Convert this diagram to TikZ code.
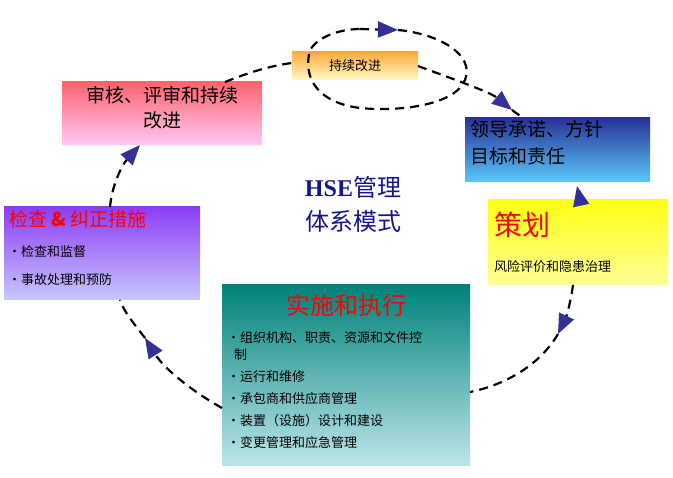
\documentclass[tikz,border=0pt]{standalone}
\usepackage{fontspec}
\setmainfont{Liberation Serif}
\newfontfamily\cjk{Noto Sans CJK SC}
\usetikzlibrary{arrows.meta}
\definecolor{ablue}{RGB}{50,50,150}
\definecolor{tnavy}{RGB}{20,20,140}
\tikzset{
  conn/.style={line width=2.2pt,dash pattern=on 9pt off 6pt,black},
  tip/.style={-{Triangle[width=16pt,length=20pt,fill=ablue,color=ablue]}},
  box/.style={inner sep=0pt,anchor=north west,font=\cjk},
}
\begin{document}
\begin{tikzpicture}[x=1pt,y=-1pt]
\useasboundingbox (0,0) rectangle (673,478);
% boxes
\shade[top color={rgb,255:red,255;green,100;blue,110},bottom color={rgb,255:red,255;green,200;blue,245}] (62,82) rectangle (262,145);
\node[box,text width=200pt,align=center,font=\cjk\fontsize{19}{25}\selectfont] (audit) at (62,86) {审核、评审和持续\\改进};
\coordinate (auditT) at (225,82); \coordinate (auditB) at (140,145);
\shade[top color={rgb,255:red,255;green,170;blue,60},bottom color={rgb,255:red,255;green,250;blue,200}] (292,52) rectangle (418,80);
\node[font=\cjk\fontsize{13}{15}\selectfont] (ci) at (355,66) {持续改进};
\coordinate (ciL) at (292,63); \coordinate (ciR) at (418,66);
\shade[top color={rgb,255:red,40;green,50;blue,150},bottom color={rgb,255:red,90;green,200;blue,250}] (465,118) rectangle (650,182);
\node[box,text width=185pt,align=left,font=\cjk\fontsize{19}{27}\selectfont] (lead) at (470,120) {领导承诺、方针\\目标和责任};
\coordinate (arrA) at (512,110); \coordinate (leadT) at (523,118); \coordinate (leadB) at (578,182);
\shade[top color={rgb,255:red,255;green,255;blue,20},bottom color={rgb,255:red,255;green,255;blue,150}] (488,200) rectangle (668,285);
\node[box,font=\cjk\fontsize{28}{30}\selectfont,text=red] (plan) at (494,212) {策划};
\node[box,font=\cjk\fontsize{13}{15}\selectfont] (plan2) at (494,260) {风险评价和隐患治理};
\coordinate (planT) at (580,200); \coordinate (planB) at (573,285);
\shade[top color={rgb,255:red,140;green,60;blue,245},bottom color={rgb,255:red,200;green,200;blue,255}] (4,207) rectangle (200,300);
\node[box,font=\cjk\fontsize{19}{22}\selectfont,text=red] (chk) at (9,210) {检查 \textbf{\&} 纠正措施};
\node[box,font=\cjk\fontsize{13}{16}\selectfont,align=left] (chk2) at (8,245) {•检查和监督\\[12pt]•事故处理和预防};
\coordinate (chkT) at (110,207); \coordinate (chkB) at (120,300);
\shade[top color={rgb,255:red,0;green,130;blue,120},bottom color={rgb,255:red,190;green,230;blue,235}] (222,285) rectangle (470,466);
\node[font=\cjk\fontsize{24}{28}\selectfont,text=red] (impl) at (346,305) {实施和执行};
\node[box,font=\cjk\fontsize{13}{17}\selectfont,align=left,text width=240pt] (impl2) at (227,331) {•组织机构、职责、资源和文件控\\\hspace*{7pt}制\\[5pt]•运行和维修\\[5pt]•承包商和供应商管理\\[5pt]•装置（设施）设计和建设\\[5pt]•变更管理和应急管理};
\coordinate (implL) at (222,408); \coordinate (implR) at (470,392);
\node[text=tnavy,align=center,font=\fontsize{24}{34}\selectfont] (title) at (353,204) {\textbf{HSE}{\cjk 管理}\\{\cjk 体系模式}};
% connectors
\draw[conn] (auditT) .. controls (245,74) and (268,66) .. (ciL);
\draw[conn,tip] (ciR) .. controls (450,78) and (490,92) .. (arrA);
\draw[conn] (arrA) -- (leadT);
\draw[conn] (398,30) .. controls (440,34) and (475,55) .. (465,80) .. controls (455,105) and (400,112) .. (360,108)
  .. controls (320,103) and (302,80) .. (310,50) .. controls (320,34) and (345,29) .. (360,29);
\draw[conn,tip] (360,29) -- (398,30);
\draw[conn,tip] (planT) -- (577,186);
\coordinate (arrB) at (558,334);
\draw[conn,tip] (planB) .. controls (571,300) and (567,315) .. (arrB);
\draw[conn] (arrB) .. controls (540,365) and (505,385) .. (implR);
\coordinate (arrC) at (145,338);
\draw[conn,tip] (implL) .. controls (195,393) and (165,370) .. (arrC);
\draw[conn] (arrC) .. controls (135,325) and (124,312) .. (chkB);
\draw[conn,tip] (chkT) .. controls (112,185) and (122,165) .. (auditB);
\end{tikzpicture}
\end{document}
